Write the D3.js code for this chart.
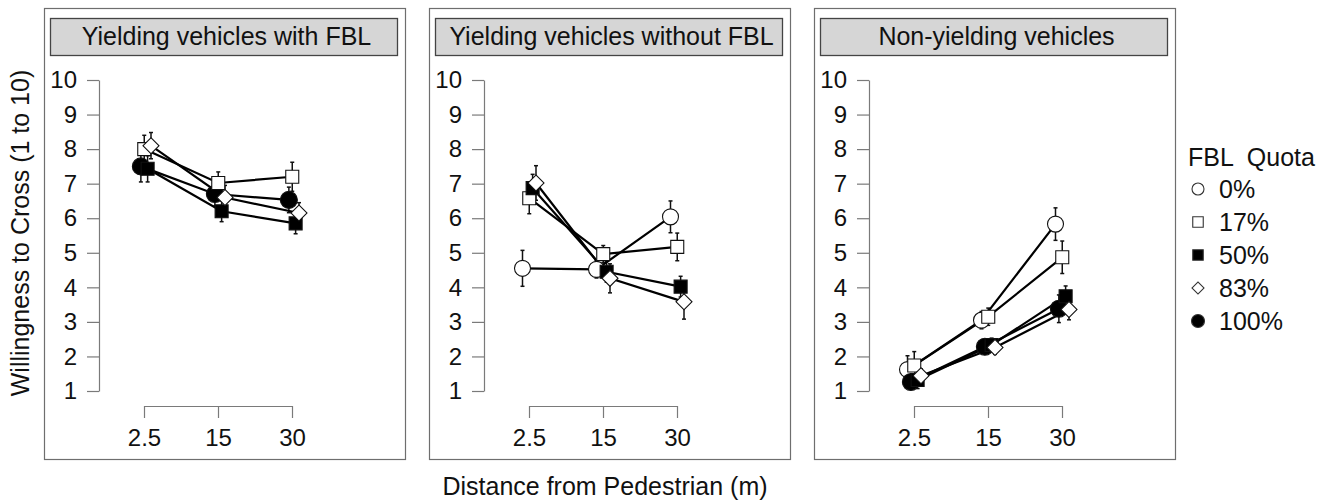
<!DOCTYPE html>
<html>
  <head>
    <meta charset="utf-8">
    <script src="https://d3js.org/d3.v7.min.js"></script>
    <title>Willingness to Cross</title>
    <style>
      body {
        margin: 0px;
        background: #ffffff;
      }
      text {
        font-family: 'Liberation Sans', Arial, sans-serif;
        fill: #111111;
      }
      .strip-label, .axis-label, .legend text {
        font-size: 25px;
      }
    </style>
  </head>
  <body>
    <script>
      // ---- data ----
      const panels = ['Yielding vehicles with FBL', 'Yielding vehicles without FBL', 'Non-yielding vehicles'];
      const distances = ['2.5', '15', '30'];
      const quotas = ['0%', '17%', '50%', '83%', '100%'];
      const yTicks = [1, 2, 3, 4, 5, 6, 7, 8, 9, 10];

      // mean willingness per panel, one row per quota (null = not shown in that panel)
      const meansWithFBL = [
        null,
        [8.0, 7.02, 7.2],
        [7.43, 6.2, 5.85],
        [8.1, 6.6, 6.15],
        [7.5, 6.7, 6.53]
      ];
      const meansWithoutFBL = [
        [4.55, 4.52, 6.04],
        [6.58, 4.96, 5.17],
        [6.87, 4.45, 4.02],
        [7.02, 4.26, 3.58],
        null
      ];
      const meansNonYielding = [
        [1.62, 3.05, 5.83],
        [1.74, 3.15, 4.87],
        [1.32, 2.33, 3.74],
        [1.44, 2.26, 3.36],
        [1.26, 2.28, 3.38]
      ];

      // standard errors (half length of the error bars)
      const seWithFBL = [
        null,
        [0.4, 0.32, 0.42],
        [0.38, 0.3, 0.3],
        [0.38, 0.35, 0.3],
        [0.45, 0.35, 0.37]
      ];
      const seWithoutFBL = [
        [0.52, 0.25, 0.46],
        [0.45, 0.25, 0.4],
        [0.4, 0.3, 0.3],
        [0.5, 0.42, 0.5],
        null
      ];
      const seNonYielding = [
        [0.4, 0.25, 0.47],
        [0.4, 0.25, 0.47],
        [0.25, 0.2, 0.3],
        [0.2, 0.2, 0.3],
        [0.2, 0.2, 0.4]
      ];

      const panelMeans = [meansWithFBL, meansWithoutFBL, meansNonYielding];
      const panelSE = [seWithFBL, seWithoutFBL, seNonYielding];

      // ---- styles per quota ----
      const shapeOf = { '0%': 'circle', '17%': 'square', '50%': 'square', '83%': 'diamond', '100%': 'circle' };
      const filledOf = { '0%': false, '17%': false, '50%': true, '83%': false, '100%': true };
      const drawOrder = ['0%', '100%', '17%', '50%', '83%'];

      const width = 1329, height = 502;
      const svg = d3.select('body').append('svg')
        .attr('width', width)
        .attr('height', height);

      const panelW = 361, panelStep = 385, panelX0 = 44, panelTop = 8, panelBottom = 459;

      const yScale = d3.scaleLinear().domain([1, 10]).range([391, 80]);
      const dodge = d3.scalePoint().domain(drawOrder).range([-6.5, 7]);

      function symbolPath(q, big) {
        const s = shapeOf[q];
        if (s === 'circle') return d3.symbol(d3.symbolCircle, big ? (filledOf[q] ? 227 : 201) : (filledOf[q] ? 133 : 113))();
        if (s === 'square') return d3.symbol(d3.symbolSquare, big ? 169 : 110)();
        return d3.symbol(d3.symbolSquare, big ? 128 : 72)();
      }

      panels.forEach((title, pi) => {
        const left = panelX0 + pi * panelStep;
        const g = svg.append('g');

        g.append('rect')
          .attr('x', left + 0.5).attr('y', panelTop + 0.5)
          .attr('width', panelW).attr('height', panelBottom - panelTop)
          .attr('fill', 'none').attr('stroke', '#6e6e6e').attr('stroke-width', 1.2);

        g.append('rect')
          .attr('x', left + 6.5).attr('y', 18.5)
          .attr('width', panelW - 14).attr('height', 37)
          .attr('fill', '#d6d6d6').attr('stroke', '#444').attr('stroke-width', 1.3);

        g.append('text')
          .attr('class', 'strip-label')
          .attr('x', left + panelW / 2 + 2)
          .attr('y', 45)
          .attr('text-anchor', 'middle')
          .text(title);

        const xScale = d3.scalePoint().domain(distances).range([left + 100, left + 248]);

        const yAxis = d3.axisLeft(yScale).tickValues(yTicks).tickSize(12).tickPadding(10).tickSizeOuter(0);
        const yAxisG = g.append('g')
          .attr('transform', `translate(${left + 55},0)`)
          .call(yAxis);
        const xAxis = d3.axisBottom(xScale).tickSize(12).tickPadding(11).tickSizeOuter(0);
        const xAxisG = g.append('g')
          .attr('transform', 'translate(0,406)')
          .call(xAxis);
        [yAxisG, xAxisG].forEach(a => {
          a.attr('font-family', null).attr('font-size', null);
          a.selectAll('path, line').attr('stroke', '#7a7a7a').attr('stroke-width', 1.2);
          a.selectAll('text')
            .style('font-size', '24px')
            .style('font-family', "'Liberation Sans', Arial, sans-serif")
            .style('fill', '#111');
        });

        const means = panelMeans[pi];
        const se = panelSE[pi];
        const series = drawOrder
          .filter(q => means[quotas.indexOf(q)] !== null)
          .map(q => {
            const qi = quotas.indexOf(q);
            return {
              q,
              pts: distances.map((d, di) => ({ d, v: means[qi][di], e: se[qi][di] }))
            };
          });
        const px = (s, p) => xScale(p.d) + dodge(s.q);

        // error bars
        series.forEach(s => {
          const eg = g.append('g');
          eg.selectAll('line.bar').data(s.pts).enter().append('line')
            .attr('x1', p => px(s, p)).attr('x2', p => px(s, p))
            .attr('y1', p => yScale(p.v - p.e)).attr('y2', p => yScale(p.v + p.e))
            .attr('stroke', '#111').attr('stroke-width', 1.5);
          [-1, 1].forEach(sign => {
            eg.selectAll(null).data(s.pts).enter().append('line')
              .attr('x1', p => px(s, p) - 2).attr('x2', p => px(s, p) + 2)
              .attr('y1', p => yScale(p.v + sign * p.e)).attr('y2', p => yScale(p.v + sign * p.e))
              .attr('stroke', '#111').attr('stroke-width', 1.5);
          });
        });

        // lines and markers
        const line = d3.line().x(p => p.x).y(p => yScale(p.v));
        series.forEach(s => {
          g.append('path')
            .datum(s.pts.map(p => ({ x: px(s, p), v: p.v })))
            .attr('d', line)
            .attr('fill', 'none').attr('stroke', '#000').attr('stroke-width', 2.2);
        });
        series.forEach(s => {
          g.selectAll(null).data(s.pts).enter().append('path')
            .attr('d', symbolPath(s.q, true))
            .attr('transform', p => `translate(${px(s, p)},${yScale(p.v)})` + (shapeOf[s.q] === 'diamond' ? ' rotate(45)' : ''))
            .attr('fill', filledOf[s.q] ? '#000' : '#fff')
            .attr('stroke', '#111').attr('stroke-width', 1.1);
        });
      });

      // axis titles
      svg.append('text')
        .attr('class', 'axis-label')
        .attr('transform', 'translate(29,233) rotate(-90)')
        .attr('text-anchor', 'middle')
        .text('Willingness to Cross (1 to 10)');

      svg.append('text')
        .attr('class', 'axis-label')
        .attr('x', 605)
        .attr('y', 495)
        .attr('text-anchor', 'middle')
        .text('Distance from Pedestrian (m)');

      // legend
      const legend = svg.append('g').attr('class', 'legend');
      legend.append('text')
        .attr('x', 1188).attr('y', 166)
        .style('white-space', 'pre')
        .text('FBL  Quota');
      const legendY = d3.scalePoint().domain(quotas).range([189, 321]);
      const items = legend.selectAll('g.item').data(quotas).enter().append('g')
        .attr('transform', q => `translate(0,${legendY(q)})`);
      items.append('path')
        .attr('d', q => symbolPath(q, false))
        .attr('transform', q => 'translate(1198,0)' + (shapeOf[q] === 'diamond' ? ' rotate(45)' : ''))
        .attr('fill', q => filledOf[q] ? '#000' : '#fff')
        .attr('stroke', '#333').attr('stroke-width', 1.1);
      items.append('text')
        .attr('x', 1219).attr('y', 0).attr('dy', '0.36em')
        .text(q => q);
    </script>
  </body>
</html>
